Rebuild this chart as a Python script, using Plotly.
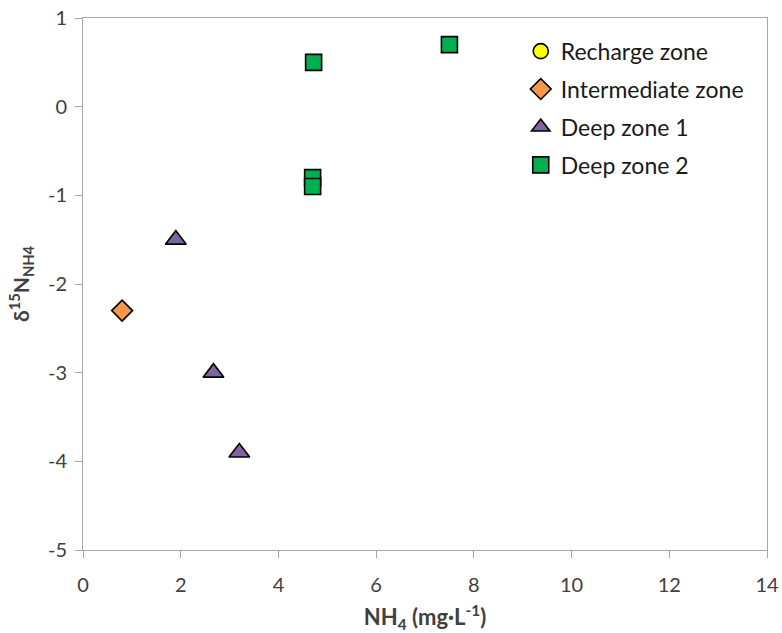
import plotly.graph_objects as go

# Data
recharge_x = [None]
recharge_y = [None]
inter_x = [0.8]
inter_y = [-2.3]
deep1_x = [1.9, 2.67, 3.2]
deep1_y = [-1.5, -3.0, -3.9]
deep2_x = [4.72, 4.7, 4.7, 7.5]
deep2_y = [0.5, -0.8, -0.9, 0.7]

x_ticks = [0, 2, 4, 6, 8, 10, 12, 14]
y_ticks = [-5, -4, -3, -2, -1, 0, 1]
y_tick_labels = ["-5", "-4", "-3", "-2", "-1", "0", "1"]

series = [
    ("Recharge zone", recharge_x, recharge_y, "circle", "#FFFF00", 15),
    ("Intermediate zone", inter_x, inter_y, "diamond", "#F79646", 16),
    ("Deep zone 1", deep1_x, deep1_y, "triangle-up", "#8064A2", 18),
    ("Deep zone 2", deep2_x, deep2_y, "square", "#00B050", 16),
]

fig = go.Figure()
for i, (name, xs, ys, sym, col, sz) in enumerate(series):
    fig.add_trace(go.Scatter(
        x=xs, y=ys, mode="markers", name=name, legendgroup=f"g{i}",
        marker=dict(symbol=sym, color=col, size=sz,
                    line=dict(color="black", width=1.6)),
    ))

font_family = "Lato, Open Sans, sans-serif"
axis_common = dict(showgrid=False, zeroline=False, showline=True, mirror=True,
                   linecolor="#A6A6A6", linewidth=1, ticks="outside",
                   tickcolor="#A6A6A6", ticklen=7, automargin=False,
                   tickfont=dict(size=20, color="#404040"))
fig.update_layout(
    width=782, height=633,
    margin=dict(l=83, r=15, t=18, b=83),
    plot_bgcolor="white", paper_bgcolor="white",
    font=dict(family=font_family, size=20, color="#404040"),
    legend=dict(x=0.64, y=0.978, xanchor="left", yanchor="top",
                font=dict(size=23, color="#1a1a1a"), tracegroupgap=5,
                bgcolor="rgba(0,0,0,0)"),
    xaxis=dict(range=[0, 14], tickvals=x_ticks, ticklabelstandoff=10,
               **axis_common,
               title=dict(text="<b>NH<sub>4</sub> (mg·L<sup>-1</sup>)</b>",
                          font=dict(size=22, color="#404040"), standoff=25)),
    yaxis=dict(range=[-5, 1], tickvals=y_ticks, ticktext=y_tick_labels,
               ticklabelstandoff=4, **axis_common,
               title=dict(text="<b>δ<sup>15</sup>N<sub>NH4</sub></b>",
                          font=dict(size=21, color="#404040"), standoff=12)),
)

fig.write_html("out.html", config={"displayModeBar": False},
               post_script="document.body.style.margin='0';")
